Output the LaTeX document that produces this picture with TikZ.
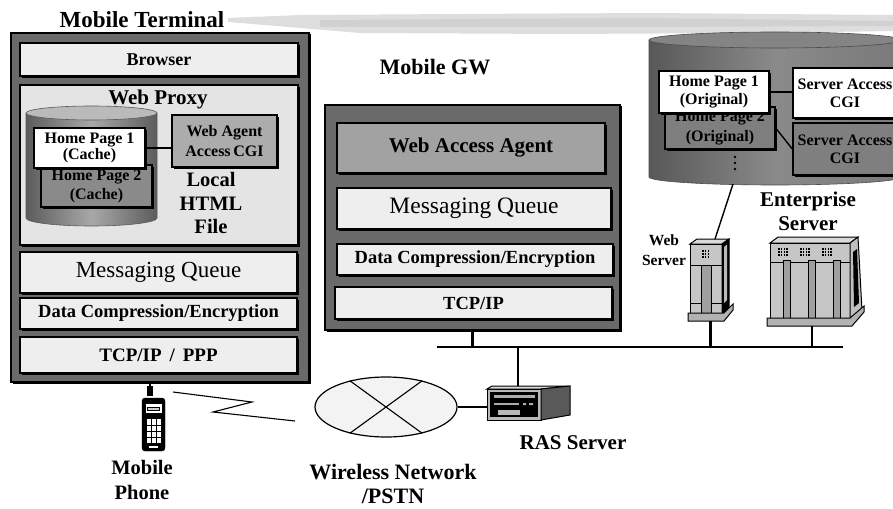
\documentclass[tikz,border=0pt]{standalone}
\usepackage{fontspec}
\setmainfont{Liberation Serif}
\usetikzlibrary{shapes.geometric,shadows,calc}

\definecolor{frameGray}{RGB}{106,106,106}
\definecolor{paneLight}{RGB}{238,238,238}
\definecolor{proxyFill}{RGB}{228,228,228}
\definecolor{agentFill}{RGB}{162,162,162}
\definecolor{cgiFill}{RGB}{172,172,172}
\definecolor{pageDark}{RGB}{138,138,138}
\definecolor{cylEdge}{RGB}{92,92,92}
\definecolor{cylMid}{RGB}{168,168,168}
\definecolor{cylTop}{RGB}{186,186,186}
\definecolor{entEdge}{RGB}{88,88,88}
\definecolor{entMid}{RGB}{138,138,138}
\definecolor{entTop}{RGB}{132,132,132}
\definecolor{netFill}{RGB}{243,243,243}
\definecolor{haze}{RGB}{214,214,214}

\newcommand\fsz[2]{\fontsize{#1}{#2}\selectfont}

\begin{document}
\begin{tikzpicture}[x=1pt,y=-1pt,line join=miter,
  frame/.style={draw=black,line width=1.8pt,fill=frameGray,inner sep=0pt,
    drop shadow={shadow xshift=1.5pt,shadow yshift=-1.5pt,fill=black,opacity=1}},
  box/.style={draw=black,line width=1.3pt,fill=paneLight,inner sep=0pt,align=center,
    drop shadow={shadow xshift=1.8pt,shadow yshift=-1.8pt,fill=black,opacity=1}},
  lbl/.style={inner sep=0pt,align=center,font=\bfseries\fsz{20}{24}},
  wire/.style={line width=1.4pt},
  bus/.style={line width=2.6pt},
  hull/.style={inner sep=0pt,draw=none}]

\useasboundingbox (0,0) rectangle (893,508);
\fill[white] (0,0) rectangle (893,508);

% faint streak across the top
\fill[haze,opacity=0.8] (228,18) -- (300,15) -- (460,14) -- (650,13) -- (893,15)
  -- (893,31) -- (760,33) -- (560,34) -- (360,33) -- (300,28) -- (228,22) -- cycle;
\fill[haze!80!gray,opacity=0.5] (320,20) -- (640,18) -- (893,21) -- (893,26) -- (640,27) -- (320,27) -- cycle;

% ---------------- Mobile terminal ----------------
\node[lbl,font=\bfseries\fsz{23}{26}] (termtitle) at (142,20) {Mobile Terminal};
\node[frame,minimum width=298,minimum height=349] (term) at (160,207.5) {};

\node[box,minimum width=278,minimum height=33,font=\bfseries\fsz{18}{20}] (browser) at (159,59.5) {Browser};
\node[box,fill=proxyFill,minimum width=278,minimum height=160] (proxy) at (159,165) {};
\node[lbl,font=\bfseries\fsz{21}{24}] (proxytitle) at (158,99) {Web Proxy};

% local HTML cache cylinder
\shade[left color=cylEdge,right color=cylEdge,middle color=cylMid]
  (26,113) -- (26,218) arc[start angle=180,end angle=360,x radius=65.5pt,y radius=8pt] -- (157,113) -- cycle;
\draw[gray!70!black,line width=0.6pt]
  (26,113) -- (26,218) arc[start angle=180,end angle=360,x radius=65.5pt,y radius=8pt] -- (157,113);
\draw[gray!70!black,line width=0.6pt,fill=cylTop] (91.5,113) ellipse[x radius=65.5pt,y radius=7pt];

\node[box,fill=pageDark,minimum width=111,minimum height=42,font=\bfseries\fsz{16}{17}] (cache2) at (96.5,186) {\raisebox{2pt}{Home Page 2}\\(Cache)};
\node[box,fill=white,minimum width=111,minimum height=40,font=\bfseries\fsz{16}{16}] (cache1) at (89.5,148) {Home Page 1\\(Cache)};
\node[box,fill=cgiFill,minimum width=105,minimum height=52,font=\bfseries\fsz{16}{20}] (agentcgi) at (224.5,141) {Web Agent\\Access\,CGI};
\draw[wire] (cache1.east) -- (cache1.east -| agentcgi.west);
\node[lbl,font=\bfseries\fsz{20.5}{23.5}] (localhtml) at (211,203) {Local\\HTML\\File};

\node[box,minimum width=277,minimum height=41,font=\fsz{23}{26}] (tqueue) at (158.5,272.5) {Messaging Queue};
\node[box,minimum width=277,minimum height=31,font=\bfseries\fsz{18.5}{20}] (tcomp) at (158.5,313.5) {Data Compression/Encryption};
\node[box,minimum width=277,minimum height=36,font=\bfseries\fsz{19}{20}] (ttcp) at (158.5,355) {TCP/IP\,\ /\ \,PPP};

% ---------------- Mobile gateway ----------------
\node[lbl,font=\bfseries\fsz{22}{24}] (gwtitle) at (435,67) {Mobile GW};
\node[frame,minimum width=295,minimum height=225] (gw) at (472.5,217.5) {};
\node[box,fill=agentFill,minimum width=268,minimum height=50,font=\bfseries\fsz{21}{24}] (gwagent) at (471,148) {Web Access Agent};
\node[box,minimum width=274,minimum height=41,font=\fsz{23.5}{26}] (gwqueue) at (474,208.5) {Messaging Queue};
\node[box,minimum width=276,minimum height=31,font=\bfseries\fsz{18.5}{20}] (gwcomp) at (475,259.5) {Data Compression/Encryption};
\node[box,minimum width=277,minimum height=32,font=\bfseries\fsz{18.5}{20}] (gwtcp) at (473.5,303) {TCP/IP};

% ---------------- Enterprise side ----------------
\begin{scope}
\clip (0,0) rectangle (893,508);
\shade[left color=entEdge,right color=entEdge!80,middle color=entMid]
  (649,40) -- (649,177) arc[start angle=180,end angle=360,x radius=126pt,y radius=8pt] -- (901,40) -- cycle;
\draw[gray!60!black,line width=0.6pt]
  (649,40) -- (649,177) arc[start angle=180,end angle=360,x radius=126pt,y radius=8pt] -- (901,40);
\draw[gray!60!black,line width=0.6pt,fill=entTop] (775,40) ellipse[x radius=126pt,y radius=8pt];

\node[box,fill=pageDark!92!black,minimum width=110,minimum height=42,font=\bfseries\fsz{16}{18}] (orig2) at (720,128) {\raisebox{2pt}{Home Page 2}\\(Original)};
\node[box,fill=white,minimum width=110,minimum height=42,font=\bfseries\fsz{16}{18}] (orig1) at (714,92) {Home Page 1\\(Original)};
\node[box,fill=white,minimum width=104,minimum height=50,font=\bfseries\fsz{16}{18}] (sacgi1) at (845,93) {Server Access\\CGI};
\node[box,fill=pageDark!92!black,minimum width=104,minimum height=52,font=\bfseries\fsz{16}{18}] (sacgi2) at (845,149) {Server Access\\CGI};
\end{scope}
\draw[wire] (orig1.east) -- (orig1.east -| sacgi1.west);
\draw[wire] (orig2.east) -- (sacgi2.west);
\foreach \yy in {157,163,169} \fill[black] (735,\yy) circle[radius=1.3pt];

% web server tower
\node[hull,minimum width=45,minimum height=82] (websrv) at (710.5,280) {};
\filldraw[fill=gray!30,line width=1pt] (690,244) -- (697,239) -- (729,239) -- (722,244) -- cycle;
\filldraw[fill=gray!45,line width=1pt] (690,244) rectangle (722,314);
\filldraw[fill=black,line width=1pt] (722,244) -- (729,239) -- (729,308) -- (722,314) -- cycle;
\fill[gray!55] (724,247) -- (727,244.5) -- (727,300) -- (724,303) -- cycle;
\draw[line width=0.8pt] (690,265) -- (722,265) (690,303) -- (722,303);
\filldraw[fill=gray!75,line width=0.8pt] (701,265) rectangle (711,314);
\foreach \i in {0,1,2} \foreach \j in {0,1,2} \fill (702+\i*2.8,250+\j*3) rectangle ++(1.6,1.6);
\filldraw[fill=gray!60,line width=1pt] (688,313) -- (724,313) -- (733,304) -- (733,310) -- (724,321) -- (688,321) -- cycle;
\node[lbl,font=\bfseries\fsz{15.5}{20}] (webtitle) at (664,250) {Web\\Server};

% enterprise server cabinet
\node[hull,minimum width=97,minimum height=89] (entsrv) at (812,281.5) {};
\filldraw[fill=gray!30,line width=1pt] (770,243) -- (778,237) -- (858,237) -- (850,243) -- cycle;
\filldraw[fill=gray!45,line width=1pt] (770,243) rectangle (850,318);
\filldraw[fill=gray!50,line width=1pt] (850,243) -- (858,237) -- (862,311) -- (850,318) -- cycle;
\fill[black] (853,252) -- (857,249) -- (859,303) -- (854,307) -- cycle;
\draw[line width=0.8pt] (770,262) -- (850,262);
\foreach \xx in {783,808,833} \filldraw[fill=gray!75,line width=0.8pt] (\xx,260) rectangle ++(7,58);
\foreach \gx in {778,800,822} \foreach \i in {0,1,2,3} \foreach \j in {0,1,2}
  \fill (\gx+\i*2.8,248+\j*3.2) rectangle ++(1.5,1.5);
\filldraw[fill=gray!60,line width=1pt] (767,318) -- (850,318) -- (864,306) -- (864,312) -- (852,326) -- (767,326) -- cycle;
\node[lbl,font=\bfseries\fsz{21}{24}] (enttitle) at (808,211) {Enterprise\\Server};

\coordinate (cylfoot) at (733,184);
\coordinate (webtop) at (715,239);
\draw[wire] (cylfoot) -- (webtop);

% ---------------- LAN bus ----------------
\coordinate (busL) at (437,347);
\coordinate (busR) at (843,347);
\draw[bus] (busL) -- (busR);
\draw[bus] (gw.south) -- (gw.south |- busL);
\draw[bus] (websrv.south) -- (websrv.south |- busL);
\draw[bus] (entsrv.south) -- (entsrv.south |- busL);

% RAS server
\node[hull,minimum width=83,minimum height=34] (ras) at (528.5,403) {};
\coordinate (rastop) at (518,388);
\draw[bus] (rastop) -- (rastop |- busL);
\filldraw[fill=gray!30,line width=1pt] (487,389) -- (492,386) -- (570,386) -- (541,389) -- cycle;
\filldraw[fill=gray!55,line width=1pt] (487,389) rectangle (541,420);
\filldraw[fill=gray!70!black,line width=1pt] (541,389) -- (570,386) -- (570,415) -- (541,420) -- cycle;
\fill[black] (490,392) rectangle (538,417);
\fill[gray!65] (494,395) rectangle (535,397.5);
\fill[gray!65] (494,403) rectangle (519,405);
\fill[gray!65] (523,403) rectangle (526,405) (529,403) rectangle (533,405);
\fill[gray!55] (498,410) rectangle (520,415);
\node[lbl,font=\bfseries\fsz{21}{24}] (rastitle) at (573,443) {RAS Server};

% wireless network / PSTN
\node[ellipse,draw=black,line width=1.2pt,fill=netFill,minimum width=142,minimum height=60,inner sep=0pt] (wan) at (386,407) {};
\draw[line width=1.1pt] (wan.144) -- (wan.324) (wan.36) -- (wan.216);
\draw[bus] (wan.east) -- (wan.east -| ras.west);
\node[lbl,font=\bfseries\fsz{22}{24}] (wantitle) at (393,484) {Wireless Network\\/PSTN};

% mobile phone
\node[hull,minimum width=23,minimum height=65] (phone) at (153.5,418.5) {};
\coordinate (phoneant) at (150,387);
\draw[line width=2pt] (phoneant |- term.south) -- (phoneant);
\fill[black] (147,386) rectangle (153,396);
\filldraw[black,rounded corners=3pt] (142,398) rectangle (165,451);
\fill[white] (145.5,404) rectangle (161.5,413);
\fill[black] (147,406.5) rectangle (160,410.5);
\fill[gray!40] (148,407.5) rectangle (159,409.5);
\fill[white] (146.5,419) rectangle (160.5,443);
\draw[black,line width=0.9pt] (151,419) -- (151,443) (156,419) -- (156,443)
  (146.5,425) -- (160.5,425) (146.5,431) -- (160.5,431) (146.5,437) -- (160.5,437);
\fill[white] (149,446) rectangle (158,448);
\node[lbl,font=\bfseries\fsz{20.5}{25}] (phonetitle) at (142,480) {Mobile\\Phone};

% radio link
\coordinate (radioA) at (173,392);
\coordinate (radioB) at (295,421);
\draw[line width=1.1pt] (radioA) -- (252,402) -- (213,412) -- (radioB);

\end{tikzpicture}
\end{document}
